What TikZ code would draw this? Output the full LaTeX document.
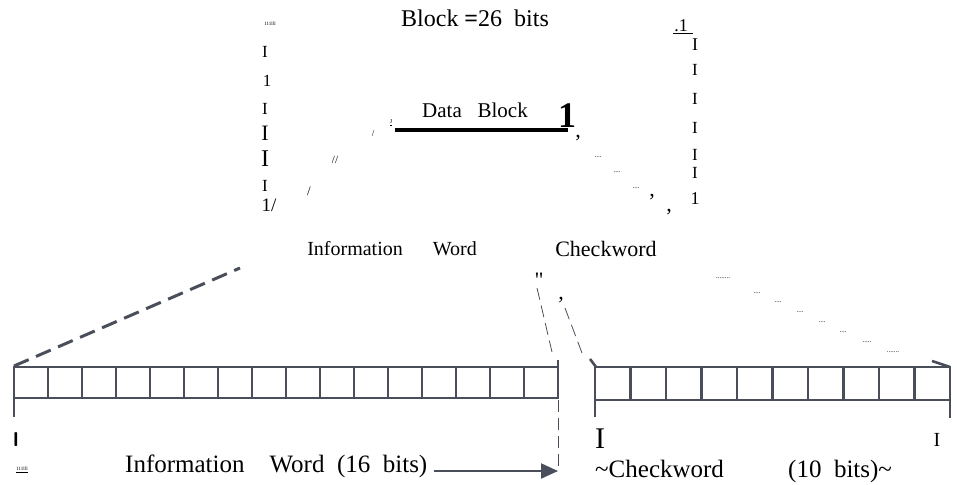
\documentclass[tikz,border=0pt]{standalone}
\usepackage{fontspec}
\setmainfont{Liberation Serif}
\usetikzlibrary{arrows.meta,positioning}
\newcommand{\fsz}[1]{\fontsize{#1}{#1}\selectfont}
\newcommand{\dotsrun}[1]{\foreach \k in {1,...,#1}{.}}
\definecolor{inkgray}{HTML}{4A4E5A}
\tikzset{
  glyph/.style={inner sep=0pt, font=\fsz{#1}},
  glyph/.default=18,
  cell/.style={draw=inkgray, line width=2.6pt},
  thindash/.style={draw=inkgray, line width=0.8pt, dash pattern=on 12pt off 6pt},
  bigdash/.style={draw=inkgray, line width=3pt, dash pattern=on 16pt off 8pt},
  dotrow/.style={inner sep=0pt, font=\fsz{7}}
}
\begin{document}
\begin{tikzpicture}[x=1pt,y=-1pt]
      \useasboundingbox (0,0) rectangle (957,484);

      % heading
      \node[glyph=5] (tinyA) at (270,24) {111lll};
      \node[glyph=24] (blk) at (475,18) {Block \textbf{=}26~~bits};

      % left column
      \node[glyph=17] (l1) at (265,52) {I};
      \node[glyph=17] (l2) at (267,81) {1};
      \node[glyph=17] (l3) at (265,109) {I};
      \node[glyph=22] (l4) at (265,133) {I};
      \node[glyph=24] (l5) at (265,159) {I};
      \node[glyph=17] (l6) at (265,186) {I};
      \node[glyph=19] (l7) at (269,205) {1/};
      \node[glyph=9] (s1) at (373,134) {/};
      \node[glyph=11] (s2) at (335,160) {//};
      \node[glyph=13] (s3) at (309,191) {/};

      % data block
      \node[glyph=6] (tinyJ) at (391,123) {\underline{J}};
      \coordinate (dbL) at (395,130);
      \coordinate (dbR) at (568,130);
      \draw[line width=4pt] (dbL) -- (dbR);
      \node[glyph=21] (dblk) at (475,110) {Data~~~Block};
      \node[glyph=36] (dbEnd) at (567,116) {\textbf{1}};
      \node[glyph=22] (c1) at (578,138) {,};
      \node[dotrow] (d1) at (598,157) {\dotsrun{4}};
      \node[dotrow] (d2) at (617,172) {\dotsrun{4}};
      \node[dotrow] (d3) at (636,188) {\dotsrun{4}};
      \node[glyph=22] (c2) at (652,197) {,};
      \node[glyph=22] (c3) at (669,212) {,};

      % right column
      \node[glyph=18] (r0) at (681,26) {.1};
      \draw[line width=0.8pt] (673,33) -- (693,33);
      \node[glyph=18] (r1) at (695,45) {I};
      \node[glyph=17] (r2) at (695,70) {I};
      \node[glyph=17] (r3) at (695,99) {I};
      \node[glyph=17] (r4) at (695,128) {I};
      \node[glyph=17] (r5) at (695,155) {I};
      \node[glyph=17] (r6) at (695,173) {I};
      \node[glyph=18] (r7) at (695,199) {1};

      \node[glyph=20] (infoTop) at (392,249) {Information~~~~~~Word};
      \node[glyph=22] (chkTop) at (606,249) {Checkword};

      % links to the arrays
      \coordinate (lTop) at (14,366);
      \coordinate (dashEnd) at (240,268);
      \draw[bigdash] (lTop) -- (dashEnd);
      \node[glyph=22] (q1) at (539,280) {\textquotedbl};
      \node[glyph=22] (q2) at (561,300) {,};
      \coordinate (ta) at (537,288);
      \coordinate (tb) at (552,352);
      \coordinate (tc) at (565,308);
      \coordinate (td) at (582,353);
      \draw[thindash] (ta) -- (tb);
      \draw[thindash] (tc) -- (td);
      \foreach \px/\py/\n in {723/278/8, 757/293/4, 778/302/4, 800/312/4,
                              822/322/4, 843/332/4, 867/342/5, 893/352/7}
        \node[dotrow] at (\px,\py) {\dotsrun{\n}};

      % information word, 16 bits
      \draw[cell] (14,367) rectangle (558,398);
      \foreach \i in {1,...,15}
        \draw[cell] (14+34*\i,367) -- (14+34*\i,398);
      \draw[cell] (558,398) -- (558,360);
      \draw[cell] (14,398) -- (14,417);

      % checkword, 10 bits
      \draw[cell] (595,367) rectangle (950,400);
      \foreach \i in {1,...,9}
        \draw[cell] (595+35.5*\i,367) -- (595+35.5*\i,400);
      \draw[cell] (590,359) -- (596,367);
      \draw[cell] (932,361) -- (950,367);
      \draw[cell] (595,400) -- (595,417);
      \draw[cell] (950,400) -- (950,418);

      % bottom labels
      \node[glyph=20] (barL) at (16,440) {\sffamily\bfseries l};
      \node[glyph=5] (tinyB) at (22,470) {\underline{111lll}};
      \node[glyph=25, anchor=base west] (infoW) at (125,472) {Information~~~~Word~~(16~~bits)};
      \coordinate (arrE) at (558,471);
      \coordinate (dvTop) at (558,400);
      \draw[thindash] (dvTop) -- (arrE);
      \draw[draw=inkgray, line width=2pt, -{Triangle[length=17pt,width=15pt]}] (infoW.base east) ++(6,-1) -- (arrE);
      \node[glyph=30] (bigI) at (600,439) {I};
      \node[glyph=20] (smI) at (937,440) {I};
      \node[glyph=25, anchor=base west] (chkW) at (595,477) {\textasciitilde Checkword};
      \node[glyph=25, anchor=base west] (tenB) at (788,477) {(10~~bits)\textasciitilde};
\end{tikzpicture}
\end{document}
